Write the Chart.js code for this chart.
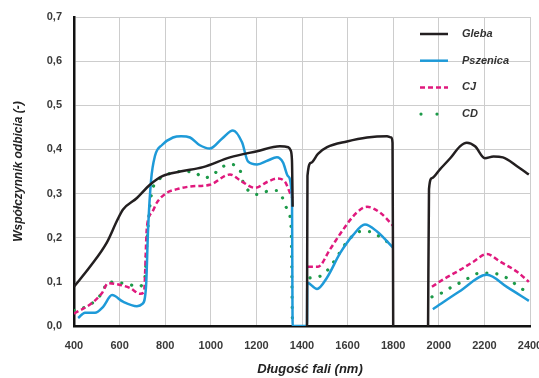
<!DOCTYPE html>
<html>
<head>
<meta charset="utf-8">
<script src="https://cdn.jsdelivr.net/npm/chart.js@4"></script>
<style>
  html, body { margin: 0; padding: 0; background: #fff; }
  #wrap { width: 539px; height: 378px; position: relative; }
</style>
</head>
<body>
<div id="wrap"><canvas id="c"></canvas></div>
<script>
// wavelength (nm) / reflectance, null = break in the curve
const glebaX = [400, 470, 545, 590, 615, 676, 733, 790, 865, 966, 1084, 1203, 1303, 1340, 1350, 1356, 1359,
  1390, 1422, 1424, 1440, 1470, 1510, 1597, 1685, 1773, 1792, 1797, 1800,
  1880, 1953, 1957, 1970, 2005, 2050, 2093, 2123, 2159, 2202, 2240, 2281, 2343, 2395];
const glebaY = [0.089, 0.134, 0.19, 0.24, 0.264, 0.29, 0.32, 0.34, 0.35, 0.36, 0.382, 0.396, 0.407, 0.405, 0.398, 0.375, 0.27,
  null, 0.0, 0.34, 0.37, 0.39, 0.405, 0.418, 0.427, 0.43, 0.427, 0.415, 0.0,
  null, 0.0, 0.31, 0.335, 0.355, 0.38, 0.407, 0.415, 0.407, 0.38, 0.384, 0.382, 0.362, 0.343];

const pszenicaX = [418, 448, 492, 527, 567, 615, 676, 700, 716, 725, 738, 755, 786, 834, 870, 909, 950, 996, 1050, 1097,
  1137, 1163, 1203, 1250, 1290, 1317, 1339, 1356, 1359, 1422, 1423, 1466, 1510, 1567, 1624, 1676, 1729, 1800,
  1880, 1974, 2090, 2211, 2300, 2395];
const pszenicaY = [0.018, 0.03, 0.03, 0.043, 0.07, 0.055, 0.045, 0.05, 0.09, 0.22, 0.33, 0.385, 0.41, 0.427, 0.43, 0.427, 0.41, 0.402, 0.425, 0.443,
  0.416, 0.373, 0.366, 0.375, 0.382, 0.37, 0.339, 0.29, 0.0, 0.0, 0.098, 0.084, 0.11, 0.165, 0.206, 0.23, 0.214, 0.177,
  null, 0.038, 0.078, 0.116, 0.088, 0.057];

const cjX = [400, 479, 523, 549, 602, 646, 690, 707, 720, 742, 764, 808, 852, 909, 996, 1084, 1137, 1193, 1250, 1290, 1325, 1347, 1358,
  1390, 1426, 1470, 1522, 1580, 1640, 1685, 1742, 1800,
  1880, 1970, 2018, 2093, 2150, 2211, 2268, 2343, 2395];
const cjY = [0.028, 0.052, 0.075, 0.097, 0.093, 0.086, 0.073, 0.077, 0.225, 0.257, 0.28, 0.302, 0.31, 0.316, 0.32, 0.343, 0.327, 0.313, 0.327, 0.334, 0.327, 0.302, 0.29,
  null, 0.134, 0.134, 0.173, 0.218, 0.257, 0.27, 0.257, 0.227,
  null, 0.089, 0.105, 0.127, 0.145, 0.163, 0.146, 0.123, 0.1];

const cdX = [400, 470, 523, 549, 593, 637, 681, 711, 720, 730, 742, 764, 808, 865, 930, 966, 1005, 1040, 1084, 1128, 1141, 1159,
  1203, 1246, 1290, 1317, 1334, 1352, 1358,
  1390, 1435, 1492, 1536, 1597, 1654, 1698, 1742, 1800,
  1880, 1970, 2013, 2049, 2093, 2136, 2180, 2224, 2268, 2311, 2347, 2395];
const cdY = [0.035, 0.048, 0.075, 0.1, 0.098, 0.095, 0.089, 0.11, 0.19, 0.257, 0.305, 0.327, 0.343, 0.35, 0.348, 0.336, 0.34, 0.357, 0.366, 0.353, 0.327, 0.31,
  0.298, 0.305, 0.307, 0.288, 0.266, 0.225, 0.0,
  null, 0.109, 0.116, 0.143, 0.19, 0.214, 0.214, 0.202, 0.18,
  null, 0.066, 0.075, 0.086, 0.098, 0.11, 0.12, 0.12, 0.116, 0.105, 0.09, 0.075];

const seriesNames = ['Gleba', 'Pszenica', 'CJ', 'CD'];
const xTicks = [400, 600, 800, 1000, 1200, 1400, 1600, 1800, 2000, 2200, 2400];

const FONT = '"Liberation Sans", Arial, sans-serif';
const colors = ['#231f20', '#1e9ad8', '#e0197d', '#1d9a49'];

const pts = (xs, ys) => xs.map((x, i) => ({ x, y: ys[i] }));

// legend drawn inside the plot, top right, over the grid
const legendPlugin = {
  id: 'insideLegend',
  afterDraw(chart) {
    const ctx = chart.ctx;
    ctx.save();
    seriesNames.forEach((name, i) => {
      const y = 34 + i * 26.7;
      ctx.strokeStyle = colors[i];
      ctx.lineWidth = 2.5;
      if (i === 2) { ctx.setLineDash([5, 3]); }
      if (i === 3) {
        ctx.fillStyle = colors[i];
        [421, 437].forEach(x => { ctx.beginPath(); ctx.arc(x, y, 1.6, 0, Math.PI * 2); ctx.fill(); });
      } else {
        ctx.beginPath(); ctx.moveTo(420, y); ctx.lineTo(448, y); ctx.stroke();
      }
      ctx.setLineDash([]);
      ctx.fillStyle = '#333';
      ctx.font = 'italic bold 11px ' + FONT;
      ctx.textBaseline = 'middle';
      ctx.fillText(name, 462, y);
    });
    // x axis title
    ctx.font = 'italic bold 13px ' + FONT;
    ctx.textAlign = 'center';
    ctx.fillStyle = '#222';
    ctx.fillText('Długość fali (nm)', 310, 369);
    ctx.restore();
  }
};

new Chart(document.getElementById('c'), {
  type: 'line',
  data: {
    datasets: [
      { label: 'Gleba', data: pts(glebaX, glebaY), borderColor: colors[0], borderWidth: 2.5 },
      { label: 'Pszenica', data: pts(pszenicaX, pszenicaY), borderColor: colors[1], borderWidth: 2.5 },
      { label: 'CJ', data: pts(cjX, cjY), borderColor: colors[2], borderWidth: 2.5, borderDash: [5, 3] },
      { label: 'CD', data: pts(cdX, cdY), borderColor: colors[3], borderWidth: 3.2, borderDash: [0.1, 10], borderCapStyle: 'round' },
    ],
  },
  options: {
    responsive: true,
    maintainAspectRatio: false,
    animation: false,
    layout: { padding: { left: 0, right: 9, top: 17, bottom: 0 } },
    elements: { point: { radius: 0 }, line: { cubicInterpolationMode: 'monotone', fill: false } },
    plugins: { legend: { display: false }, tooltip: { enabled: false } },
    scales: {
      x: {
        type: 'linear', min: 400, max: 2400,
        afterBuildTicks: s => { s.ticks = xTicks.map(v => ({ value: v })); },
        afterFit: s => { s.height = 52; s.paddingLeft = 0; s.paddingRight = 0; },
        ticks: {
          color: '#3a3a3a', font: { family: FONT, size: 11, weight: 'bold' }, padding: 13, maxRotation: 0,
          callback: v => String(v),
        },
        grid: { color: '#cdcdcd', lineWidth: 1, drawTicks: false },
        border: { color: '#111', width: 2.5 },
      },
      y: {
        min: 0, max: 0.7,
        afterFit: s => { s.width = 74; s.paddingTop = 0; s.paddingBottom = 0; },
        ticks: {
          stepSize: 0.1, color: '#3a3a3a', padding: 12,
          font: { family: FONT, size: 11, weight: 'bold' },
          callback: v => v.toFixed(1).replace('.', ','),
        },
        grid: { color: '#cdcdcd', lineWidth: 1, drawTicks: false },
        border: { color: '#111', width: 2.5 },
        title: {
          display: true, text: 'Współczynnik odbicia (-)', color: '#222', padding: { top: 11, bottom: 4 },
          font: { family: FONT, size: 12, weight: 'bold', style: 'italic' },
        },
      },
    },
  },
  plugins: [legendPlugin],
});
</script>
</body>
</html>
